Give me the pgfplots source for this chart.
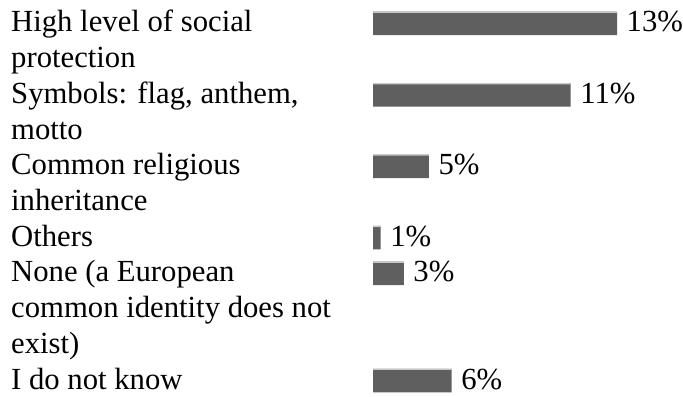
\documentclass[border=0pt]{standalone}
\usepackage{fontspec}
\setmainfont{Liberation Serif}
\usepackage{pgfplots}
\usepackage{pgfplotstable}
\pgfplotsset{compat=1.18}
\definecolor{barc}{HTML}{5F5F5F}
\definecolor{barlight}{HTML}{C8C8C8}
\pgfplotstableread{
pos   len    lab
23.5  13.00  13
94.9  10.53  11
166.3 2.98   5
237.7 0.41   1
273.4 1.64   3
380.5 4.19   6
}\datatable
\newcommand\bigfont{\fontsize{30.7bp}{35.7bp}\selectfont}
\begin{document}
\begin{tikzpicture}
\begin{axis}[
  at={(373bp,0)}, anchor=south west,
  scale only axis, width=310bp, height=397bp,
  xmin=0, xmax=16.516, ymin=0, ymax=397, y dir=reverse,
  axis line style={draw=none}, major tick length=0pt,
  xtick=\empty,
  ytick={23.5,94.9,166.3,237.7,273.4,380.5},
  yticklabels={{High level of social\\protection},{Symbols: flag, anthem,\\motto},{Common religious\\inheritance},{Others},{None (a European\\common identity does not\\exist)},{I do not know}},
  yticklabel style={anchor=base west, inner sep=0pt, xshift=-362bp, yshift=-8.5bp, text width=340bp, align=flush left, font=\bigfont},
  clip=false,
]
\addplot[xbar, bar shift=0pt, bar width=23.5bp, fill=barc, draw=none,
  point meta=explicit symbolic,
  nodes near coords={\pgfplotspointmeta\%},
  every node near coord/.append style={anchor=base west, inner sep=0pt, xshift=9.5bp, yshift=-8.5bp, font=\bigfont, text=black}]
  table[x=len, y=pos, meta=lab] \datatable;
\addplot[xbar, bar shift=11.25bp, bar width=1.2bp, fill=barlight, draw=none]
  table[x=len, y=pos] \datatable;
\end{axis}
\pgfresetboundingbox
\path (0,0) rectangle (683bp,397bp);
\end{tikzpicture}
\end{document}
